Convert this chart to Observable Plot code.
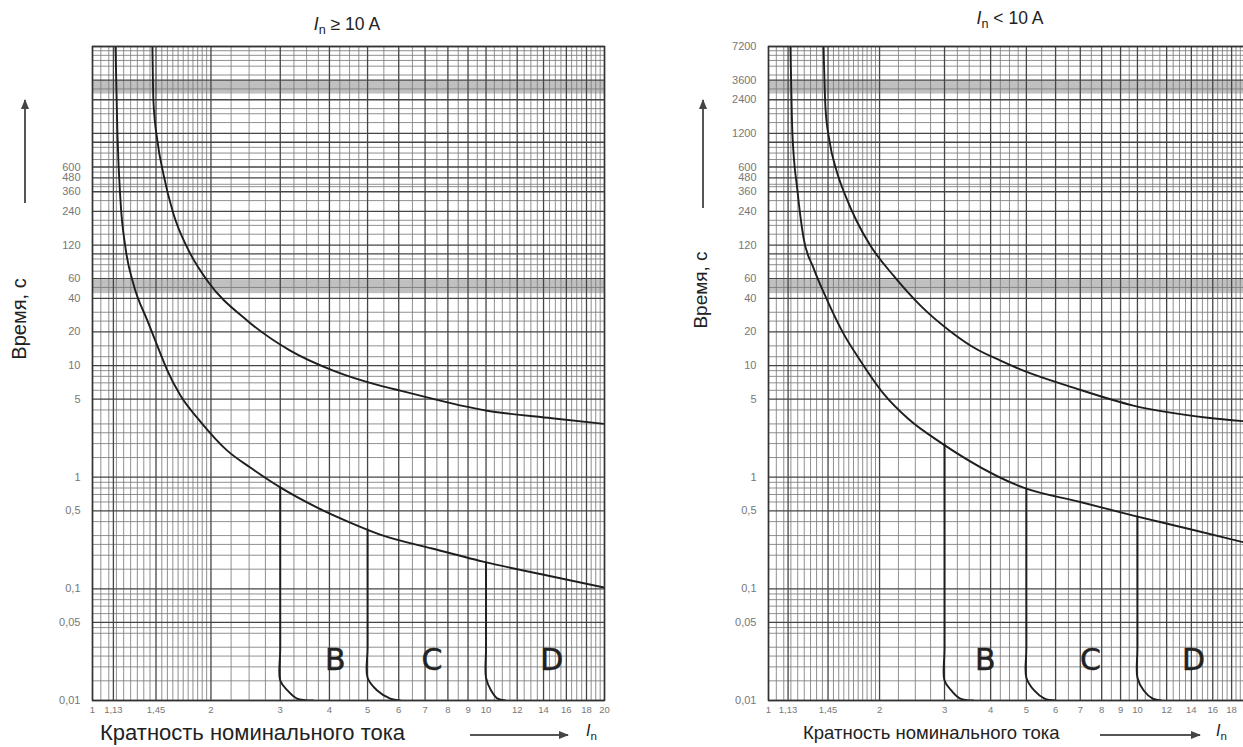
<!DOCTYPE html>
<html><head><meta charset="utf-8">
<script src="https://cdn.jsdelivr.net/npm/d3@7"></script>
<script src="https://cdn.jsdelivr.net/npm/@observablehq/plot@0.6"></script>
<style>
html,body{margin:0;padding:0;background:#fff;overflow:hidden;width:1243px;height:747px;}
#wrap{position:relative;width:1243px;height:747px;overflow:hidden;font-family:"Liberation Sans",Arial,sans-serif;color:#222;}
.abs{position:absolute;white-space:nowrap;line-height:1.1;}
.ttl{font-size:17.5px;}
.ylab{transform:translate(-50%,-50%) rotate(-90deg);}
sub{font-size:72%;vertical-align:-0.32em;line-height:0;}
</style></head><body><div id="wrap"></div>
<script>
// ---------- data ----------
const xTicksLeft = [1, 1.13, 1.45, 2, 3, 4, 5, 6, 7, 8, 9, 10, 12, 14, 16, 18, 20];
const xTicksRight = [1, 1.13, 1.45, 2, 3, 4, 5, 6, 7, 8, 9, 10, 12, 14, 16, 18];
const yTicksLeft = [600, 480, 360, 240, 120, 60, 40, 20, 10, 5, 1, 0.5, 0.1, 0.05, 0.01];
const yTicksRight = [7200, 3600, 2400, 1200, 600, 480, 360, 240, 120, 60, 40, 20, 10, 5, 1, 0.5, 0.1, 0.05, 0.01];

const xGridMajor = [1, 1.13, 1.45, 2, 3, 4, 5, 6, 7, 8, 9, 10, 12, 14, 16, 18, 20];
const xGridMinor = [1.05,1.1,1.15,1.2,1.25,1.3,1.35,1.4,1.5,1.55,1.6,1.65,1.7,1.75,1.8,1.85,1.9,1.95,
  2.25,2.5,2.75,3.25,3.5,3.75,4.25,4.5,4.75,5.5,6.5,7.5,8.5,9.5,
  10.5,11,11.5,12.5,13,13.5,14.5,15,15.5,16.5,17,17.5,18.5,19,19.5];
const yGridMinor = [0.015,0.02,0.025,0.03,0.04,0.045,0.06,0.07,0.08,0.09,
  0.15,0.2,0.25,0.3,0.4,0.6,0.7,0.8,0.9,
  1.5,2,2.5,3,4,6,7,8,9,
  12,15,25,30,50,70,80,90,
  150,180,200,300,400,420,540,700,800,900,
  1500,1800,2000,3000,4000,4800,5400,6000,6600];
const yGridMajor = [0.01,0.05,0.1,0.5,1,5,10,20,40,60,100,120,240,360,480,600,1000,1200,2400,3600,7200];
const bandLo = [44, 2700];
const bandHi = [58, 3550];

// Left panel (In >= 10 A)
const lowL_I = [1.144, 1.157, 1.178, 1.213, 1.27, 1.379, 1.488, 1.55, 1.673, 1.88, 2.20, 2.518, 3.0, 3.725, 4.517, 5.383, 7.295, 9.826, 14.71, 20];
const lowL_t = [7200, 1191, 299, 113, 54, 25.2, 12.8, 9.0, 5.38, 3.15, 1.73, 1.219, 0.81, 0.534, 0.392, 0.306, 0.2296, 0.1755, 0.129, 0.1027];
const upL_I = [1.42, 1.428, 1.462, 1.514, 1.606, 1.742, 1.958, 2.475, 3.18, 4.09, 5.38, 6.05, 10.06, 14.7, 20];
const upL_t = [7200, 2353, 1030, 521, 228, 113, 57.5, 25.2, 13.6, 9.0, 6.6, 5.96, 3.94, 3.37, 3.0];
const tripL_B_I = [3, 3, 3, 3.13, 3.31, 3.64];
const tripL_B_t = [0.81, 0.03, 0.0151, 0.0123, 0.0104, 0.01];
const tripL_C_I = [5, 5, 5, 5.29, 5.71, 6.05];
const tripL_C_t = [0.34, 0.03, 0.016, 0.0123, 0.0104, 0.01];
const tripL_D_I = [10, 10, 10, 10.3, 10.7, 11.2];
const tripL_D_t = [0.173, 0.03, 0.016, 0.0123, 0.0104, 0.01];

// Right panel (In < 10 A)
const lowR_I = [1.147, 1.161, 1.198, 1.244, 1.324, 1.445, 1.597, 1.776, 2.05, 2.4, 2.93, 4.91, 7, 9.75, 14, 20];
const lowR_t = [7200, 1191, 368, 140, 75, 38, 19.3, 11.0, 5.6, 3.3, 2.04, 0.807, 0.60, 0.453, 0.34, 0.255];
const upR_I = [1.41, 1.427, 1.463, 1.529, 1.617, 1.732, 1.89, 2.182, 2.582, 3.172, 3.639, 4.254, 4.91, 6.71, 9.75, 15.5, 20];
const upR_t = [7200, 2033, 1030, 555, 331, 198, 118, 63.8, 34.4, 19.3, 14.2, 11.07, 9.0, 6.34, 4.38, 3.41, 3.15];
const tripR_B_I = [3, 3, 3, 3.13, 3.31, 3.59];
const tripR_B_t = [1.98, 0.03, 0.0151, 0.0123, 0.0104, 0.01];
const tripR_C_I = [5, 5, 5, 5.25, 5.6, 6.0];
const tripR_C_t = [0.79, 0.03, 0.016, 0.0123, 0.0104, 0.01];
const tripR_D_I = [10, 10, 10, 10.4, 11.0, 11.6];
const tripR_D_t = [0.445, 0.03, 0.016, 0.0123, 0.0104, 0.01];

const letters = ["B", "C", "D"];
const lettersL_I = [4.14, 7.29, 14.7];
const lettersR_I = [3.87, 7.46, 14.2];
const letters_t = [0.0228, 0.0228, 0.0228];

// ---------- helpers ----------
const pts = (I, t, name) => I.map((v, i) => ({I: v, t: t[i], s: name}));
const fmt = d => String(d).replace(".", ",");
const bands = bandLo.map((lo, i) => ({lo, hi: bandHi[i]}));

function panel({width, marginRight, yTicks, xTicks, curves, trips, lettersI}) {
  const lab = letters.map((l, i) => ({l, I: lettersI[i], t: letters_t[i]}));
  return Plot.plot({
    width, height: 720,
    marginLeft: 92, marginRight, marginTop: 46, marginBottom: 20,
    x: {type: "log", domain: [1, 20], axis: null},
    y: {type: "log", domain: [0.01, 7200], axis: null},
    style: {background: "transparent", fontFamily: "Liberation Sans, Arial, sans-serif", overflow: "visible"},
    marks: [
      Plot.rect(bands, {x1: () => 1, x2: () => 20, y1: "lo", y2: "hi", fill: "#c0c0c0"}),
      Plot.ruleX(xGridMinor, {stroke: "#7c7c7c", strokeWidth: 1, strokeOpacity: 0.85}),
      Plot.ruleY(yGridMinor, {stroke: "#7c7c7c", strokeWidth: 1, strokeOpacity: 0.85}),
      Plot.ruleX(xGridMajor, {stroke: "#454545", strokeWidth: 1.3}),
      Plot.ruleY(yGridMajor, {stroke: "#454545", strokeWidth: 1.3}),
      Plot.line(curves.flat(), {x: "I", y: "t", z: "s", stroke: "#1e1e1e", strokeWidth: 1.9, curve: "monotone-x", clip: true}),
      Plot.line(trips.flat(), {x: "I", y: "t", z: "s", stroke: "#1e1e1e", strokeWidth: 1.9, curve: "catmull-rom", clip: true}),
      Plot.frame({stroke: "#333", strokeWidth: 1.5}),
      Plot.text(lab, {x: "I", y: "t", text: "l", fontSize: 30, fill: "#222", stroke: "#222", strokeWidth: 0.5, fontFamily: "DejaVu Sans, sans-serif"}),
      Plot.text(yTicks, {y: d => d, text: fmt, frameAnchor: "left", textAnchor: "end", dx: -12, fontSize: 11, fill: "#777"}),
      Plot.text(xTicks, {x: d => d, text: fmt, frameAnchor: "bottom", dy: 12, fontSize: 9.5, fill: "#777"})
    ]
  });
}

const left = panel({
  width: 620, marginRight: 16, yTicks: yTicksLeft, xTicks: xTicksLeft, lettersI: lettersL_I,
  curves: [pts(lowL_I, lowL_t, "low"), pts(upL_I, upL_t, "up")],
  trips: [pts(tripL_B_I, tripL_B_t, "B"), pts(tripL_C_I, tripL_C_t, "C"), pts(tripL_D_I, tripL_D_t, "D")]
});
const right = panel({
  width: 572, marginRight: 0, yTicks: yTicksRight, xTicks: xTicksRight, lettersI: lettersR_I,
  curves: [pts(lowR_I, lowR_t, "low"), pts(upR_I, upR_t, "up")],
  trips: [pts(tripR_B_I, tripR_B_t, "B"), pts(tripR_C_I, tripR_C_t, "C"), pts(tripR_D_I, tripR_D_t, "D")]
});

const wrap = document.getElementById("wrap");
left.style.position = "absolute"; left.style.left = "0px"; left.style.top = "0px";
right.style.position = "absolute"; right.style.left = "676px"; right.style.top = "0px";
wrap.appendChild(left);
wrap.appendChild(right);

// ---------- annotations ----------
const html = `
<div class="abs ttl" style="left:347px;top:25px;transform:translate(-50%,-50%)"><i>I</i><sub>n</sub> &#8805; 10 A</div>
<div class="abs ttl" style="left:1010px;top:19px;transform:translate(-50%,-50%)"><i>I</i><sub>n</sub> &lt; 10 A</div>
<div class="abs ylab" style="left:19px;top:319px;font-size:20px">Время, с</div>
<div class="abs ylab" style="left:701px;top:290px;font-size:19px">Время, с</div>
<div class="abs" style="left:100px;top:733px;transform:translateY(-50%);font-size:22px">Кратность номинального тока</div>
<div class="abs" style="left:803px;top:733px;transform:translateY(-50%);font-size:18.5px">Кратность номинального тока</div>
<div class="abs" style="left:586px;top:731px;transform:translateY(-50%);font-size:16px"><i>I</i><sub>n</sub></div>
<div class="abs" style="left:1216px;top:731px;transform:translateY(-50%);font-size:16px"><i>I</i><sub>n</sub></div>
<svg class="abs" style="left:0;top:0" width="1243" height="747">
  <defs><marker id="ah" viewBox="0 0 10 10" refX="9" refY="5" markerWidth="5" markerHeight="5" orient="auto-start-reverse">
    <path d="M0,1 L10,5 L0,9 z" fill="#444"/></marker></defs>
  <line x1="25" y1="203" x2="25" y2="100" stroke="#555" stroke-width="2" marker-end="url(#ah)"/>
  <line x1="703" y1="208" x2="703" y2="100" stroke="#555" stroke-width="2" marker-end="url(#ah)"/>
  <line x1="470" y1="735" x2="568" y2="735" stroke="#555" stroke-width="2" marker-end="url(#ah)"/>
  <line x1="1100" y1="735" x2="1200" y2="735" stroke="#555" stroke-width="2" marker-end="url(#ah)"/>
</svg>`;
wrap.insertAdjacentHTML("beforeend", html);
</script>
</body></html>
